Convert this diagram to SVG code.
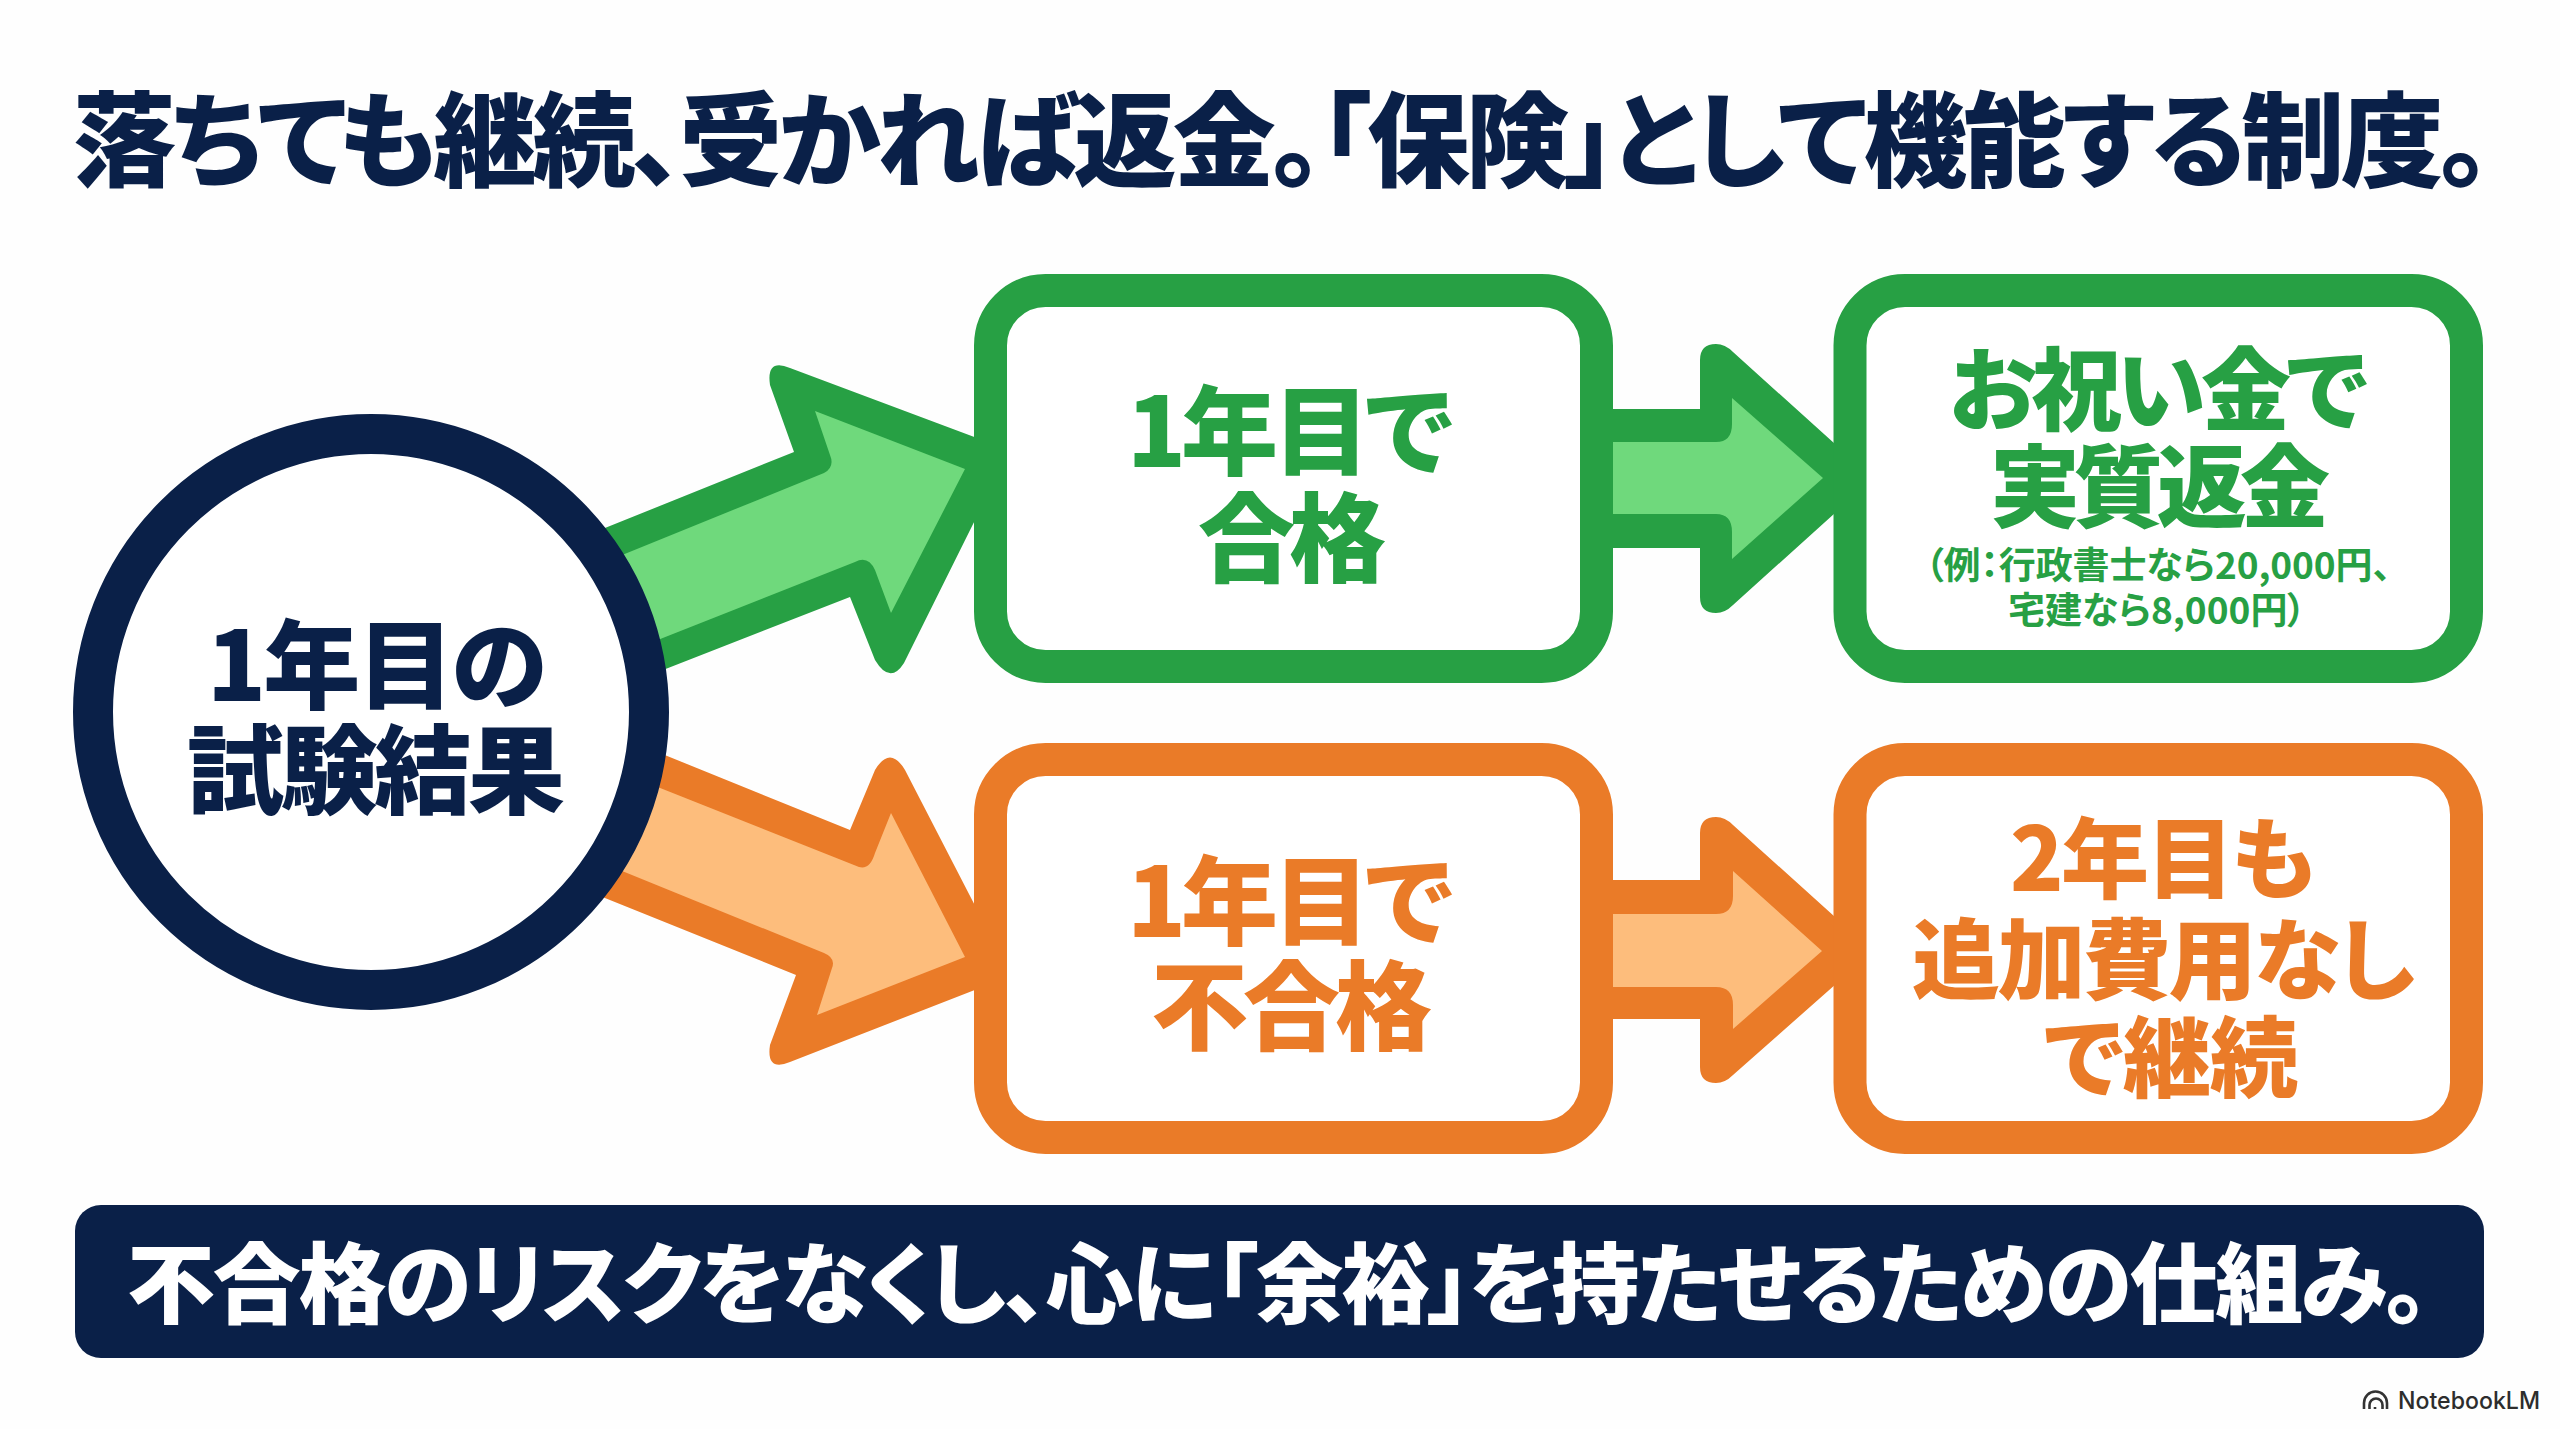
<svg xmlns="http://www.w3.org/2000/svg" width="2560" height="1429" viewBox="0 0 2560 1429">
<style>
text{font-family:"Noto Sans CJK JP","Noto Sans",sans-serif;font-weight:900;font-feature-settings:"palt";}
.navy{fill:#0a2048}.gt{fill:#27a044}.ot{fill:#ea7b28}.wt{fill:#fff}
.gd{fill:#27a044}.gl{fill:#6fd97c}.od{fill:#ea7b28}.ol{fill:#fdbd7c}
.box{fill:#fff;stroke-width:33}.gb{stroke:#27a044}.ob{stroke:#ea7b28}
.t92{font-size:97px}.t88{font-size:90px}.t84{font-size:88px}.t36{font-size:37px;font-weight:700}
</style>
<rect width="2560" height="1429" fill="#fefefe"/>
<g id="title"><text class="navy" x="73" y="179" style="font-size:103px" textLength="2418" lengthAdjust="spacing">落ちても継続、受かれば返金。「保険」として機能する制度。</text></g>
<g id="connectors">
<path class="gd" d="M590,534L794,452L770,385Q766,358 790,368L985,441L985,500L904,663Q890,685 875,660L850,597L640,679Z"/>
<path class="gl" d="M600,564L824,473Q835,467 830,455L815,411L965,469L891,613L875,570Q868,555 855,562L640,647Z"/>
<path class="od" d="M640,745L850,830L875,770Q890,745 905,770L985,925L985,986L790,1062Q766,1072 770,1045L796,975L590,892Z"/>
<path class="ol" d="M640,780L859,867Q870,870 875,853L891,813L965,957L817,1015L832,968Q836,958 824,953L600,862Z"/>
<path class="gd" d="M1605,409L1700,409L1700,360Q1700,344 1716,344Q1725,344 1733,352L1845,453L1845,504L1733,605Q1725,613 1716,613Q1700,613 1700,597L1700,548L1605,548Z"/>
<path class="gl" d="M1610,442L1716,442Q1732,442 1732,424L1732,398L1823,478L1732,559L1732,532Q1732,514 1716,514L1610,514Z"/>
<path class="od" d="M1605,880L1700,880L1700,833Q1700,817 1716,817Q1725,817 1733,825L1845,926L1845,976L1733,1075Q1725,1083 1716,1083Q1700,1083 1700,1067L1700,1019L1605,1019Z"/>
<path class="ol" d="M1610,914L1716,914Q1733,914 1733,896L1733,871L1822,951L1733,1029L1733,1005Q1733,987 1716,987L1610,987Z"/>
</g>
<g id="node-start">
<circle cx="371" cy="712" r="278" fill="#fff" stroke="#0a2048" stroke-width="40"/>
<text class="navy t92" x="207" y="701" textLength="340" lengthAdjust="spacing">1年目の</text>
<text class="navy t92" x="187" y="806" textLength="378" lengthAdjust="spacing">試験結果</text>
</g>
<g id="node-pass">
<rect class="box gb" x="990.5" y="290.5" width="606" height="376" rx="55"/>
<text class="gt t92" x="1127" y="467" textLength="326" lengthAdjust="spacing">1年目で</text>
<text class="gt t92" x="1198" y="574" textLength="188" lengthAdjust="spacing">合格</text>
</g>
<g id="node-refund">
<rect class="box gb" x="1850" y="290.5" width="616.5" height="376" rx="55"/>
<text class="gt t88" x="1949" y="423" textLength="419" lengthAdjust="spacing">お祝い金で</text>
<text class="gt t88" x="1990" y="520" textLength="340" lengthAdjust="spacing">実質返金</text>
<text class="gt t36" x="1925" y="579" textLength="466" lengthAdjust="spacing">（例：行政書士なら20,000円、</text>
<text class="gt t36" x="2008" y="624" textLength="298" lengthAdjust="spacing">宅建なら8,000円）</text>
</g>
<g id="node-fail">
<rect class="box ob" x="990.5" y="759.5" width="606" height="378" rx="55"/>
<text class="ot t92" x="1127" y="937" textLength="326" lengthAdjust="spacing">1年目で</text>
<text class="ot t92" x="1151" y="1042" textLength="281" lengthAdjust="spacing">不合格</text>
</g>
<g id="node-continue">
<rect class="box ob" x="1850" y="759.5" width="616.5" height="378" rx="55"/>
<text class="ot t84" x="2010" y="891" textLength="306" lengthAdjust="spacing">2年目も</text>
<text class="ot t84" x="1912" y="992" textLength="503" lengthAdjust="spacing">追加費用なし</text>
<text class="ot t84" x="2044" y="1090" textLength="254" lengthAdjust="spacing">で継続</text>
</g>
<g id="banner">
<rect x="75" y="1205" width="2409" height="153" rx="26" fill="#0a2048"/>
<text class="wt" x="127" y="1316" style="font-size:88px" textLength="2302" lengthAdjust="spacing">不合格のリスクをなくし、心に「余裕」を持たせるための仕組み。</text>
</g>
<g id="logo" fill="none" stroke="#333" stroke-width="2.6">
<path d="M2364,1409V1403A11.500,11.500 0 0 1 2387,1403V1409"/>
<path d="M2369.500,1409V1405A6.500,6.500 0 0 1 2382.500,1405V1409"/>
<path d="M2375,1409V1407"/>
<text x="2398" y="1409" stroke="none" style="font-family:'Inter','Roboto',sans-serif;font-size:24px;font-weight:500;font-feature-settings:normal" fill="#2d2d2d" textLength="142" lengthAdjust="spacingAndGlyphs">NotebookLM</text>
</g>
</svg>
